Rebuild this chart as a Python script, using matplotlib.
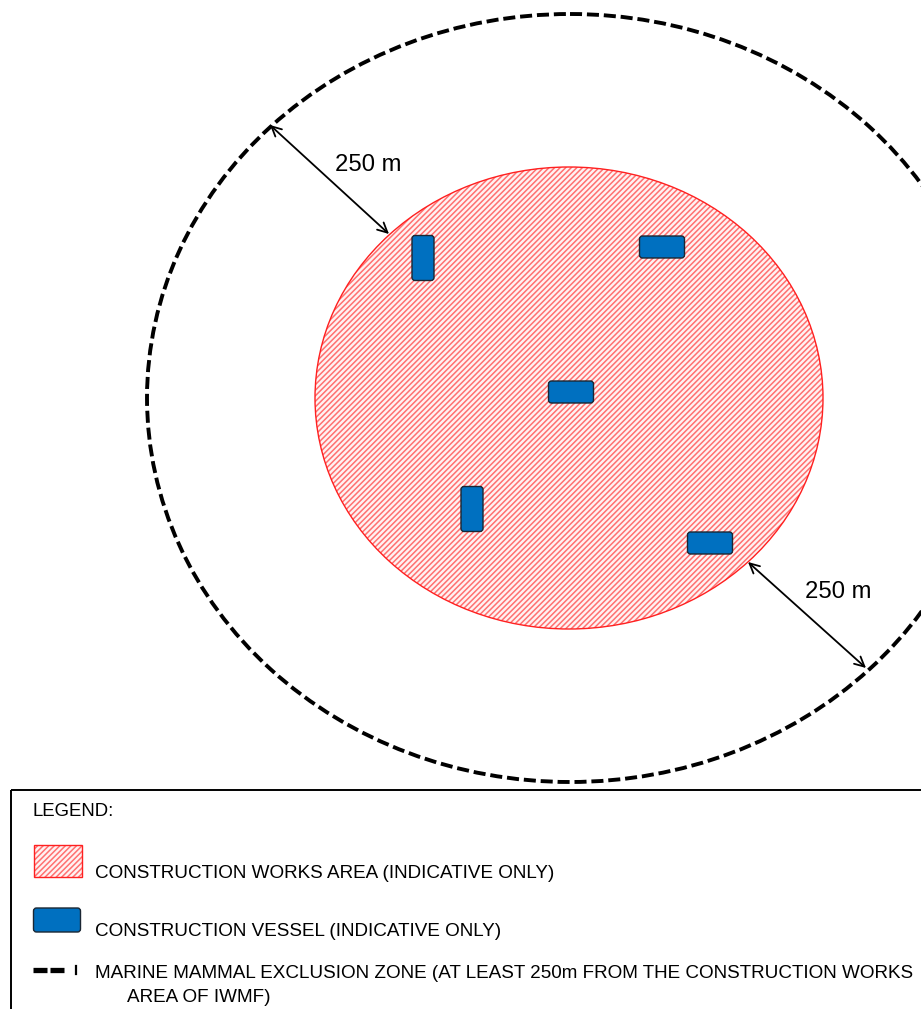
"""Marine mammal exclusion zone diagram"""

import matplotlib
matplotlib.use("Agg")
import matplotlib.pyplot as plt
from matplotlib.patches import Ellipse, Rectangle, FancyBboxPatch

plt.rcParams['font.family'] = ['Liberation Sans', 'DejaVu Sans']
plt.rcParams['hatch.linewidth'] = 1.1

# geometry (pixel units)
works_centre = (569, 398)
works_size = (508, 462)
zone_centre = (570, 398)
zone_size = (846, 768)

vessel_x = [423, 662, 571, 472, 710]
vessel_y = [258, 247, 392, 509, 543]
vessel_upright = [True, False, False, True, False]

arrow_from = [(270, 125), (866, 668)]
arrow_to = [(389, 234), (748, 562)]
distance_labels = ["250 m", "250 m"]
distance_label_xy = [(368, 165), (838, 592)]

legend_title = "LEGEND:"
legend_items = [
    "CONSTRUCTION WORKS AREA (INDICATIVE ONLY)",
    "CONSTRUCTION VESSEL (INDICATIVE ONLY)",
    "MARINE MAMMAL EXCLUSION ZONE (AT LEAST 250m FROM THE CONSTRUCTION WORKS",
]
legend_item_y = [873, 932, 974]
legend_wrap = "AREA OF IWMF)"

RED = '#ff2020'
HATCH_RED = '#ff7070'
PINK = '#fff2f2'
BLUE = '#0070c0'


def vessel(ax, x, y, upright, w=45, h=22):
    if upright:
        w, h = h, w
    ax.add_patch(FancyBboxPatch((x - w / 2, y - h / 2), w, h,
                                boxstyle='round,pad=0,rounding_size=3',
                                fc=BLUE, ec='#1b2733', lw=1.0, zorder=4))


def works_area(ax, patch_cls, *args, **kw):
    # hatch in a lighter red, outline in full red
    ax.add_patch(patch_cls(*args, fc=PINK, ec=HATCH_RED, lw=0,
                           hatch='//////', **kw))
    ax.add_patch(patch_cls(*args, fill=False, ec=RED, lw=1.0, **kw))


def main():
    fig = plt.figure(figsize=(9.21, 10.09), dpi=100)
    ax = fig.add_axes([0, 0, 1, 1])
    ax.set_xlim(0, 921)
    ax.set_ylim(1009, 0)
    ax.axis('off')

    # exclusion zone
    ax.add_patch(Ellipse(zone_centre, *zone_size, fill=False, ec='black',
                         lw=2.8, ls=(0, (3.1, 1.25)), zorder=2))

    # construction works area
    works_area(ax, Ellipse, works_centre, *works_size, zorder=3)

    for x, y, up in zip(vessel_x, vessel_y, vessel_upright):
        vessel(ax, x, y, up)

    for p0, p1 in zip(arrow_from, arrow_to):
        ax.annotate('', xy=p1, xytext=p0,
                    arrowprops=dict(arrowstyle='<->,head_length=0.7,head_width=0.35',
                                    color='black', lw=1.3,
                                    shrinkA=0, shrinkB=0), zorder=5)
    for txt, (x, y) in zip(distance_labels, distance_label_xy):
        ax.text(x, y, txt, fontsize=17.2, ha='center', va='center', zorder=5)

    # legend panel
    ax.add_patch(Rectangle((11, 790), 960, 260, fill=False, ec='black',
                           lw=1.4, zorder=6))
    ax.text(32, 812, legend_title, fontsize=13.4, va='center')

    works_area(ax, Rectangle, (34, 845), 48, 32, zorder=6)
    vessel(ax, 57, 920, False, w=47, h=24)
    ax.plot([33, 47], [970, 970], color='black', lw=3.8,
            solid_capstyle='butt', zorder=6)
    ax.plot([50, 64], [970, 970], color='black', lw=3.8,
            solid_capstyle='butt', zorder=6)
    ax.plot([76, 76], [966, 974], color='black', lw=1.6, zorder=6)

    for txt, y in zip(legend_items, legend_item_y):
        ax.text(95, y, txt, fontsize=13.6, va='center')
    ax.text(127, 997, legend_wrap, fontsize=13.6, va='center')

    fig.savefig('out.png', dpi=100)


if __name__ == "__main__":
    main()
